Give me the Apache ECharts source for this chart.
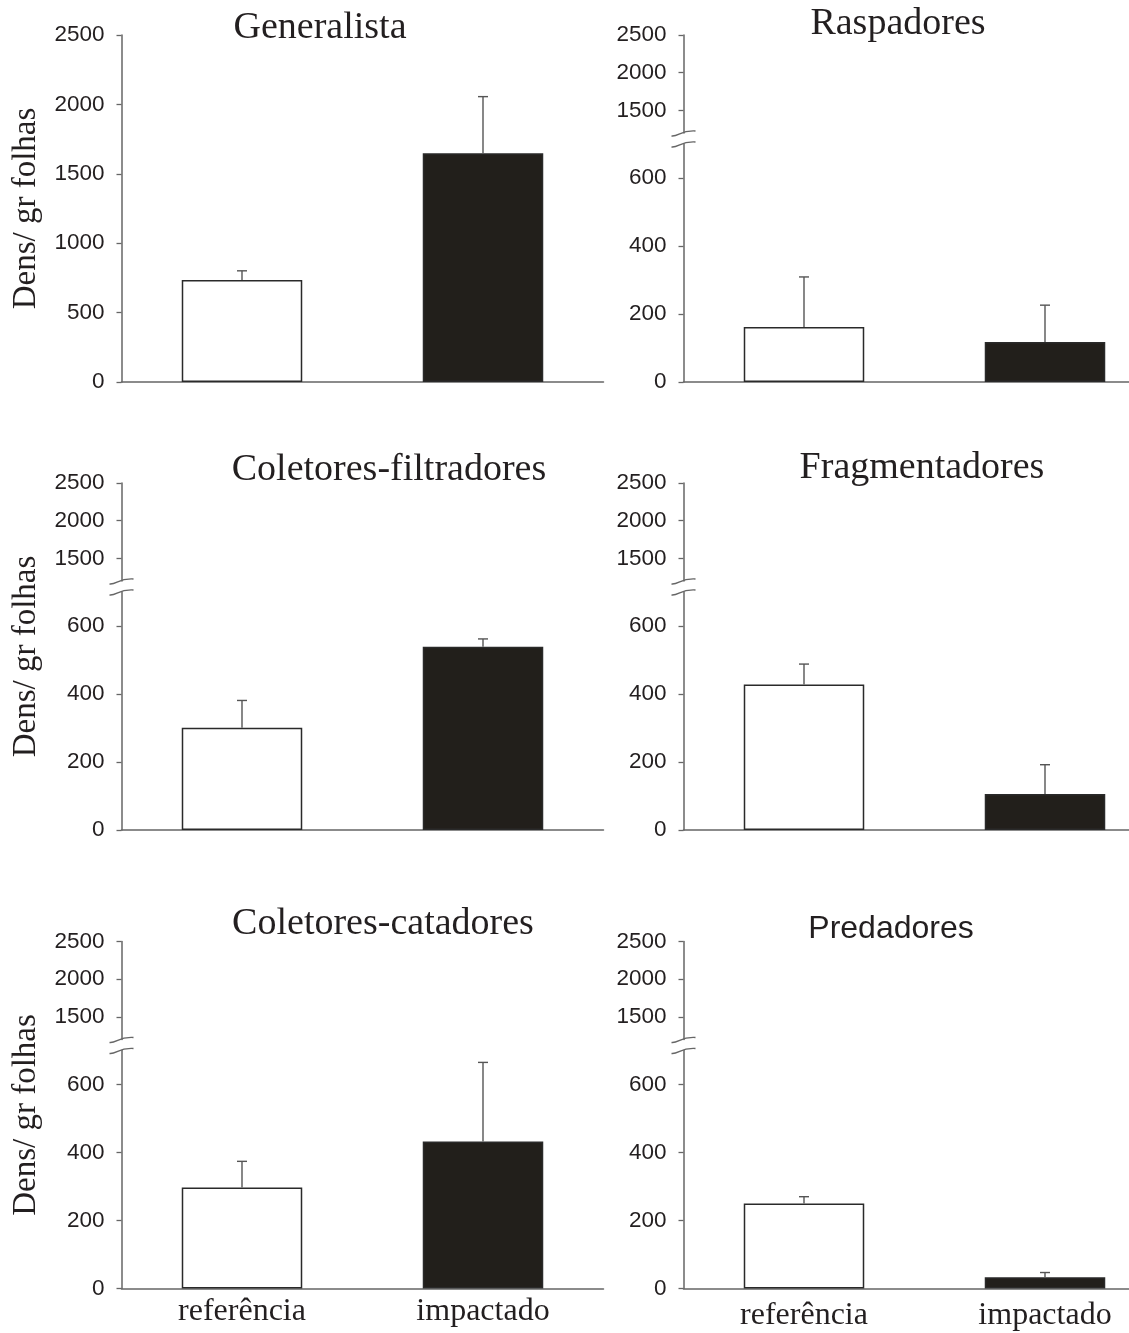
<!DOCTYPE html>
<html><head><meta charset="utf-8">
<script src="https://cdn.jsdelivr.net/npm/echarts@6/dist/echarts.min.js"></script>
<style>html,body{margin:0;padding:0;background:#fff}#c{width:1129px;height:1333px}</style>
</head><body><div id="c"></div>
<script>
// ---- data ----
const categories = ['referência', 'impactado'];
const panelTitles = ['Generalista', 'Raspadores', 'Coletores-filtradores', 'Fragmentadores', 'Coletores-catadores', 'Predadores'];
const generalista = [735, 1648];
const generalistaSE = [66, 408];
const raspadores = [162, 118];
const raspadoresSE = [147, 108];
const coletoresFiltradores = [301, 539];
const coletoresFiltradoresSE = [80, 23];
const fragmentadores = [428, 106];
const fragmentadoresSE = [60, 86];
const coletoresCatadores = [297, 432];
const coletoresCatadoresSE = [77, 233];
const predadores = [250, 33];
const predadoresSE = [20, 14];
const linearTicks = [0, 500, 1000, 1500, 2000, 2500];
const lowerTicks = [0, 200, 400, 600];
const upperTicks = [1500, 2000, 2500];
const yAxisName = 'Dens/ gr folhas';

// ---- layout ----
const colX = [121.5, 683.5];
const colW = 482;
const rowOff = [0, 448, 906.5];
const topY = 35, zeroY = 382;
const upperMin = 1200, upperH = 98;
const lowerMax = 700, lowerH = 238;
const fillColors = ['#ffffff', '#221f1b'];
const axisColor = '#666';
const tickFont = {fontFamily: '"Liberation Sans", Arial, sans-serif', fontSize: 22.5, color: '#231f20', formatter: v => String(v)};
const serif = '"Liberation Serif", "Times New Roman", serif';

const panels = [
  {values: generalista, se: generalistaSE, col: 0, row: 0, broken: false, tx: 320, ty: 28, sans: false},
  {values: raspadores, se: raspadoresSE, col: 1, row: 0, broken: true, tx: 898, ty: 24, sans: false},
  {values: coletoresFiltradores, se: coletoresFiltradoresSE, col: 0, row: 1, broken: true, tx: 389, ty: 470, sans: false},
  {values: fragmentadores, se: fragmentadoresSE, col: 1, row: 1, broken: true, tx: 922, ty: 468, sans: false},
  {values: coletoresCatadores, se: coletoresCatadoresSE, col: 0, row: 2, broken: true, tx: 383, ty: 924, sans: false},
  {values: predadores, se: predadoresSE, col: 1, row: 2, broken: true, tx: 891, ty: 929, sans: true}
];

const grid = [], xAxis = [], yAxis = [], series = [], graphic = [];

function errRender(params, api) {
  const x = api.value(0), v = api.value(1), e = api.value(2);
  const b = api.coord([x, v]);
  const t = api.coord([x, v + e]);
  const hw = 5;
  const st = {stroke: '#555', lineWidth: 1.4};
  return {type: 'group', children: [
    {type: 'line', shape: {x1: b[0], y1: b[1], x2: t[0], y2: t[1]}, style: st},
    {type: 'line', shape: {x1: t[0] - hw, y1: t[1], x2: t[0] + hw, y2: t[1]}, style: st}
  ]};
}

function mkGrid(left, top, height) {
  return {left: left, top: top, width: colW, height: height, outerBoundsMode: 'none', containLabel: false};
}

panels.forEach((p, i) => {
  const off = rowOff[p.row];
  const left = colX[p.col];
  const showX = p.row === 2;
  const xBase = {
    type: 'category', data: categories,
    axisLine: {lineStyle: {color: axisColor, width: 1.5}},
    axisTick: {show: false},
    axisLabel: {show: showX, fontFamily: serif, fontSize: 32, color: '#231f20', margin: p.col === 0 ? 7 : 11},
    splitLine: {show: false}
  };
  const yBase = {
    type: 'value',
    axisLine: {show: true, lineStyle: {color: axisColor, width: 1.5}},
    axisTick: {show: true, length: 5, lineStyle: {color: axisColor, width: 1.3}},
    splitLine: {show: false}
  };
  const yLab = (vals) => Object.assign({margin: 17, customValues: vals}, tickFont);
  const yTick = (vals) => Object.assign({}, yBase.axisTick, {customValues: vals});
  let gi;
  if (!p.broken) {
    gi = grid.length;
    grid.push(mkGrid(left, topY + off, zeroY - topY));
    xAxis.push(Object.assign({gridIndex: gi}, xBase));
    yAxis.push(Object.assign({gridIndex: gi, min: 0, max: 2500, interval: 500}, yBase,
      {axisLabel: yLab(linearTicks), axisTick: yTick(linearTicks)}));
  } else {
    const ug = grid.length;
    grid.push(mkGrid(left, topY + off, upperH));
    xAxis.push({gridIndex: ug, type: 'category', data: categories, show: false});
    yAxis.push(Object.assign({gridIndex: ug, min: upperMin, max: 2500}, yBase,
      {axisLabel: yLab(upperTicks), axisTick: yTick(upperTicks)}));
    gi = grid.length;
    grid.push(mkGrid(left, zeroY + off - lowerH, lowerH));
    xAxis.push(Object.assign({gridIndex: gi}, xBase));
    yAxis.push(Object.assign({gridIndex: gi, min: 0, max: lowerMax}, yBase,
      {axisLabel: yLab(lowerTicks), axisTick: yTick(lowerTicks)}));
    // break marks
    const ax = left;
    [topY + off + upperH, zeroY + off - lowerH].forEach(yy => {
      graphic.push({type: 'bezierCurve', silent: true,
        shape: {x1: ax - 12, y1: yy + 3, cpx1: ax - 5, cpy1: yy + 4, cpx2: ax - 3, cpy2: yy - 3, x2: ax + 12, y2: yy - 2},
        style: {stroke: axisColor, lineWidth: 1.4, fill: null}});
    });
  }
  series.push({
    type: 'bar', xAxisIndex: gi, yAxisIndex: gi, barWidth: '50%',
    data: p.values.map((v, k) => ({value: v, itemStyle: {color: fillColors[k]}})),
    itemStyle: {borderColor: '#2a2a2a', borderWidth: 1.5},
    silent: true, z: 2
  });
  series.push({
    type: 'custom', xAxisIndex: gi, yAxisIndex: gi, renderItem: errRender,
    data: p.values.map((v, k) => [k, v, p.se[k]]), silent: true, z: 3
  });
  graphic.push({type: 'text', x: p.tx, y: p.ty, silent: true,
    style: {text: panelTitles[i], textAlign: 'center', textVerticalAlign: 'middle',
      font: p.sans ? 'normal 32px "Liberation Sans", Arial, sans-serif' : 'normal 38px ' + serif, fill: '#231f20'}});
});

rowOff.forEach(off => {
  graphic.push({type: 'text', x: 26, y: (topY + zeroY) / 2 + off, rotation: Math.PI / 2, silent: true,
    style: {text: yAxisName, textAlign: 'center', textVerticalAlign: 'middle',
      font: 'normal 33px ' + serif, fill: '#231f20'}});
});

const chart = echarts.init(document.getElementById('c'), null, {renderer: 'canvas'});
chart.setOption({animation: false, backgroundColor: '#fff', grid, xAxis, yAxis, series, graphic});
</script></body></html>
